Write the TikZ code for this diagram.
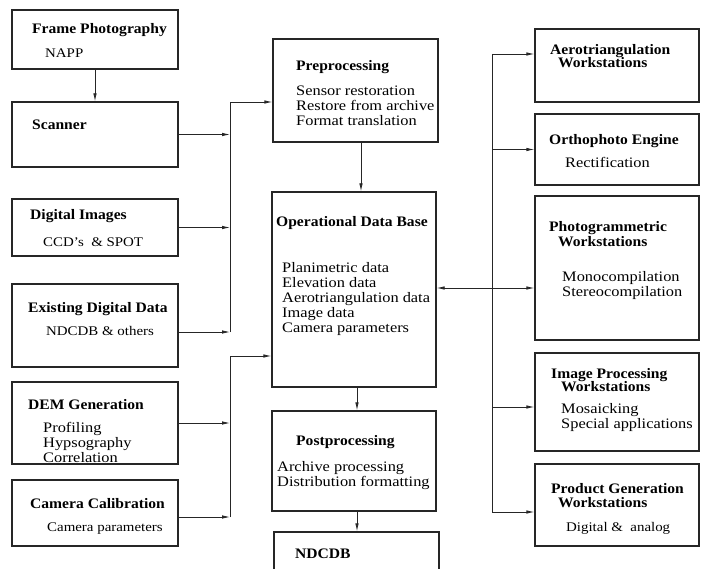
\documentclass[tikz,border=0pt]{standalone}
\usepackage{fontspec}
\setmainfont{Liberation Serif}[FakeStretch=1.13, BoldFeatures={FakeStretch=1.075}]
\usetikzlibrary{arrows.meta}
\begin{document}
\begin{tikzpicture}[x=1pt,y=-1pt,
  box/.style={draw=black!85, line width=1.3pt, inner sep=0pt},
  conn/.style={draw=black!85, line width=0.8pt},
  arr/.style={conn, -{Latex[length=8pt,width=3.5pt]}},
  dbl/.style={conn, {Latex[length=8pt,width=3.5pt]}-{Latex[length=8pt,width=3.5pt]}},
  txt/.style={anchor=base west, inner sep=0pt, font=\fontsize{14.5}{15}\selectfont},
  stxt/.style={anchor=base west, inner sep=0pt, font=\fontsize{13.2}{15}\selectfont},
  hd/.style={anchor=base west, inner sep=0pt, font=\fontsize{14.5}{15}\selectfont\bfseries}]
\clip (0,0) rectangle (703,569);
\fill[white] (0,0) rectangle (703,569);
% boxes
\node[box, minimum width=166pt, minimum height=59pt] (fp) at (95,39.5) {};
\node[box, minimum width=166pt, minimum height=65pt] (sc) at (95,134.5) {};
\node[box, minimum width=166pt, minimum height=57pt] (di) at (95,227.5) {};
\node[box, minimum width=166pt, minimum height=83pt] (ed) at (95,325.5) {};
\node[box, minimum width=166pt, minimum height=82pt] (dem) at (95,423) {};
\node[box, minimum width=166pt, minimum height=66pt] (cc) at (95,513) {};
\node[box, minimum width=165pt, minimum height=103pt] (pre) at (355.5,90.5) {};
\node[box, minimum width=164pt, minimum height=195pt] (odb) at (354,289.5) {};
\node[box, minimum width=164pt, minimum height=100pt] (post) at (354,461) {};
\node[box, minimum width=165pt, minimum height=68pt] (nd) at (356.5,566) {};
\node[box, minimum width=164pt, minimum height=73pt] (aero) at (617,65.5) {};
\node[box, minimum width=164pt, minimum height=71pt] (ortho) at (617,149.5) {};
\node[box, minimum width=164pt, minimum height=144pt] (photo) at (617,268) {};
\node[box, minimum width=164pt, minimum height=98pt] (ip) at (617,402) {};
\node[box, minimum width=164pt, minimum height=82pt] (pg) at (617,505) {};
% texts
\node[hd] (t1) at (32,34) {Frame Photography};
\node[stxt] (t2) at (45,58) {NAPP};
\node[hd] (t3) at (32,130) {Scanner};
\node[hd] (t4) at (30,219) {Digital Images};
\node[stxt] (t5) at (43,246) {CCD's \ \&\ SPOT};
\node[hd] (t6) at (28,312) {Existing Digital Data};
\node[stxt] (t7) at (46,335) {NDCDB \& others};
\node[hd] (t8) at (28,409) {DEM Generation};
\node[txt] (t9) at (43,432) {Profiling};
\node[txt] (t10) at (43,447) {Hypsography};
\node[txt] (t11) at (43,462) {Correlation};
\node[hd] (t12) at (30,508) {Camera Calibration};
\node[stxt] (t13) at (47,531) {Camera parameters};
\node[hd] (t14) at (296,71) {Preprocessing};
\node[txt] (t15) at (296,96) {Sensor restoration};
\node[txt] (t16) at (296,111) {Restore from archive};
\node[txt] (t17) at (296,126) {Format translation};
\node[hd] (t18) at (276,226) {Operational Data Base};
\node[txt] (t19) at (282,272) {Planimetric data};
\node[txt] (t20) at (282,287) {Elevation data};
\node[txt] (t21) at (282,302) {Aerotriangulation data};
\node[txt] (t22) at (282,317) {Image data};
\node[txt] (t23) at (282,332) {Camera parameters};
\node[hd] (t24) at (296,445) {Postprocessing};
\node[txt] (t25) at (277,471) {Archive processing};
\node[txt] (t26) at (277,486) {Distribution formatting};
\node[hd] (t27) at (295,558) {NDCDB};
\node[hd] (t28) at (550,55) {Aerotriangulation};
\node[hd] (t29) at (558,68) {Workstations};
\node[hd] (t30) at (549,145) {Orthophoto Engine};
\node[txt] (t31) at (565,168) {Rectification};
\node[hd] (t32) at (549,232) {Photogrammetric};
\node[hd] (t33) at (558,246) {Workstations};
\node[txt] (t34) at (562,281) {Monocompilation};
\node[txt] (t35) at (562,296) {Stereocompilation};
\node[hd] (t36) at (551,378) {Image Processing};
\node[hd] (t37) at (561,391) {Workstations};
\node[txt] (t38) at (561,413) {Mosaicking};
\node[txt] (t39) at (561,428) {Special applications};
\node[hd] (t40) at (551,493) {Product Generation};
\node[hd] (t41) at (558,507) {Workstations};
\node[stxt] (t42) at (566,531) {Digital \&\ \ analog};
% bus coordinates
\coordinate (b1t) at (230,102);
\coordinate (b1b) at (230,332);
\coordinate (b2t) at (230,356);
\coordinate (b2b) at (230,517);
\coordinate (v1) at (361,0);
\coordinate (v2) at (357,0);
\coordinate (r1) at (492,54);
\coordinate (r2) at (492,512);
\coordinate (r3) at (492,288);
\coordinate (r4) at (492,407);
% connectors
\draw[arr] (fp.south) -- (sc.north);
\draw[arr] (sc.east) -- (sc.east -| b1t);
\draw[arr] (di.east) -- (di.east -| b1t);
\draw[arr] (ed.east |- b1b) -- (b1b);
\draw[conn] (b1b) -- (b1t);
\draw[arr] (b1t) -- (b1t -| pre.west);
\draw[arr] (dem.east) -- (dem.east -| b2t);
\draw[arr] (cc.east |- b2b) -- (b2b);
\draw[conn] (b2b) -- (b2t);
\draw[arr] (b2t) -- (b2t -| odb.west);
\draw[arr] (pre.south -| v1) -- (odb.north -| v1);
\draw[arr] (odb.south -| v2) -- (post.north -| v2);
\draw[arr] (post.south -| v2) -- (nd.north -| v2);
\draw[conn] (r1) -- (r2);
\draw[arr] (r1) -- (r1 -| aero.west);
\draw[arr] (ortho.west -| r1) -- (ortho.west);
\draw[dbl] (r3 -| odb.east) -- (r3 -| photo.west);
\draw[arr] (r4) -- (r4 -| ip.west);
\draw[arr] (r2) -- (r2 -| pg.west);
\end{tikzpicture}
\end{document}
